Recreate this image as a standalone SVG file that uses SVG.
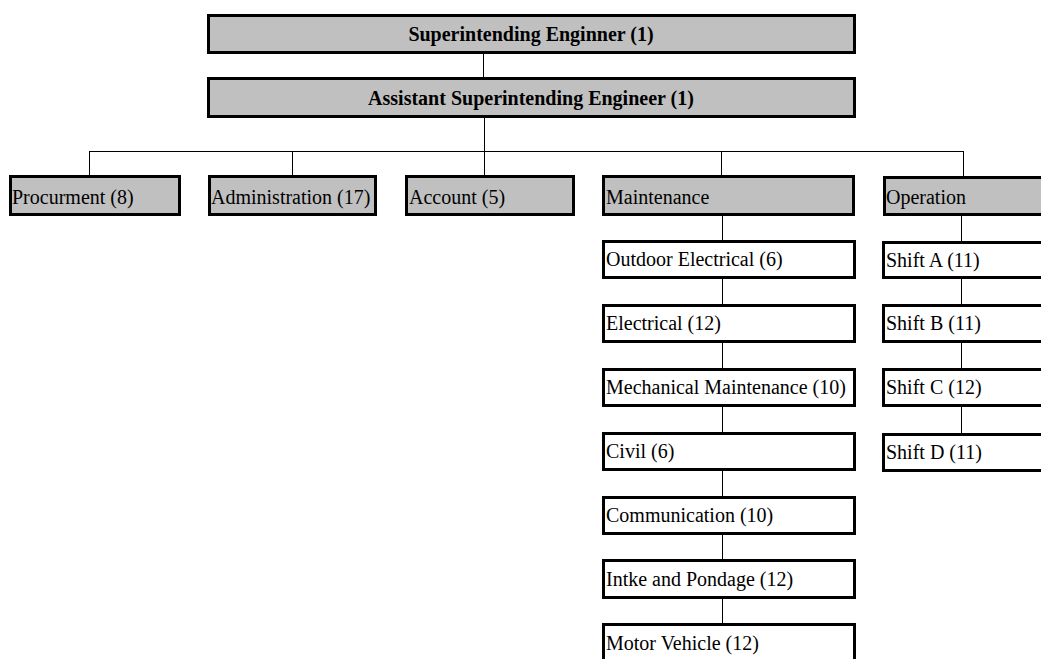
<svg xmlns="http://www.w3.org/2000/svg" width="1041" height="659" viewBox="0 0 1041 659">
  <style>
    .box { stroke: #000; stroke-width: 3; }
    .grey { fill: #c0c0c0; }
    .white { fill: #ffffff; }
    .lbl { font-family: "Liberation Serif", "Times New Roman", serif; font-size: 20px; fill: #000; }
    .title { font-weight: bold; text-anchor: middle; }
    .conn { stroke: #000; stroke-width: 1; fill: none; }
  </style>
  <rect width="1041" height="659" fill="#ffffff"/>

  <!-- connectors -->
  <g id="connectors">
    <path class="conn" d="M483.5 54 V77"/>
    <path class="conn" d="M484.5 118 V151.5"/>
    <path class="conn" d="M89.5 151.5 H963.5"/>
    <path class="conn" d="M89.5 151 V175"/>
    <path class="conn" d="M292.5 151 V175"/>
    <path class="conn" d="M484.5 151 V175"/>
    <path class="conn" d="M721.5 151 V175"/>
    <path class="conn" d="M963.5 151 V176"/>
    <path class="conn" d="M722.5 216 V623"/>
    <path class="conn" d="M961.5 216 V433"/>
  </g>

  <!-- top level -->
  <g id="superintending-engineer">
    <rect class="box grey" x="208.5" y="15.5" width="646" height="37"/>
    <text class="lbl title" x="531" y="41">Superintending Enginner (1)</text>
  </g>
  <g id="assistant-superintending-engineer">
    <rect class="box grey" x="208.5" y="78.5" width="646" height="38"/>
    <text class="lbl title" x="531" y="105">Assistant Superintending Engineer (1)</text>
  </g>

  <!-- departments -->
  <g id="procurment">
    <rect class="box grey" x="10.5" y="176.5" width="169" height="38"/>
    <text class="lbl" x="12" y="204">Procurment (8)</text>
  </g>
  <g id="administration">
    <rect class="box grey" x="209.5" y="176.5" width="166" height="38"/>
    <text class="lbl" x="211" y="204">Administration (17)</text>
  </g>
  <g id="account">
    <rect class="box grey" x="406.5" y="176.5" width="167" height="38"/>
    <text class="lbl" x="409" y="204">Account (5)</text>
  </g>
  <g id="maintenance">
    <rect class="box grey" x="603.5" y="176.5" width="250" height="38"/>
    <text class="lbl" x="606" y="204">Maintenance</text>
  </g>
  <g id="operation">
    <rect class="box grey" x="884.5" y="177.5" width="170" height="37"/>
    <text class="lbl" x="886" y="204">Operation</text>
  </g>

  <!-- maintenance sections -->
  <g id="outdoor-electrical">
    <rect class="box white" x="603.5" y="241.5" width="251" height="36"/>
    <text class="lbl" x="606" y="266">Outdoor Electrical (6)</text>
  </g>
  <g id="electrical">
    <rect class="box white" x="603.5" y="305.5" width="251" height="36"/>
    <text class="lbl" x="606" y="330">Electrical (12)</text>
  </g>
  <g id="mechanical-maintenance">
    <rect class="box white" x="603.5" y="369.5" width="251" height="36"/>
    <text class="lbl" x="606" y="394">Mechanical Maintenance (10)</text>
  </g>
  <g id="civil">
    <rect class="box white" x="603.5" y="433.5" width="251" height="36"/>
    <text class="lbl" x="606" y="458">Civil (6)</text>
  </g>
  <g id="communication">
    <rect class="box white" x="603.5" y="497.5" width="251" height="36"/>
    <text class="lbl" x="606" y="522">Communication (10)</text>
  </g>
  <g id="intake-and-pondage">
    <rect class="box white" x="603.5" y="560.5" width="251" height="37"/>
    <text class="lbl" x="606" y="586">Intke and Pondage (12)</text>
  </g>
  <g id="motor-vehicle">
    <rect class="box white" x="603.5" y="624.5" width="251" height="50"/>
    <text class="lbl" x="606" y="650">Motor Vehicle (12)</text>
  </g>

  <!-- operation shifts -->
  <g id="shift-a">
    <rect class="box white" x="883.5" y="242.5" width="170" height="35"/>
    <text class="lbl" x="886" y="267">Shift A (11)</text>
  </g>
  <g id="shift-b">
    <rect class="box white" x="883.5" y="305.5" width="170" height="36"/>
    <text class="lbl" x="886" y="330">Shift B (11)</text>
  </g>
  <g id="shift-c">
    <rect class="box white" x="883.5" y="369.5" width="170" height="36"/>
    <text class="lbl" x="886" y="394">Shift C (12)</text>
  </g>
  <g id="shift-d">
    <rect class="box white" x="883.5" y="434.5" width="170" height="36"/>
    <text class="lbl" x="886" y="459">Shift D (11)</text>
  </g>
</svg>
